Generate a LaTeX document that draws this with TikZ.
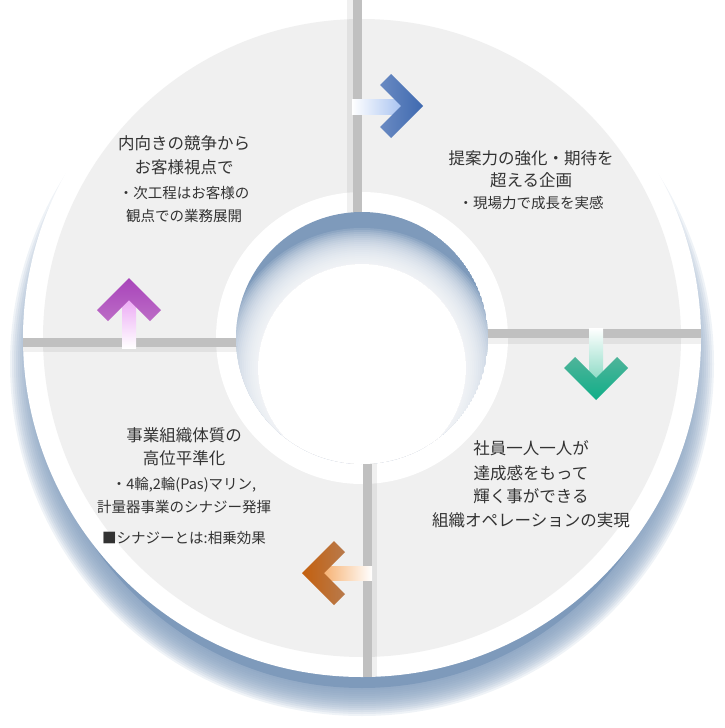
\documentclass[tikz,border=0pt]{standalone}
\usepackage{fontspec}
\setmainfont{Noto Sans CJK JP}
\usetikzlibrary{positioning}
\definecolor{ringgray}{HTML}{F0F0F0}
\definecolor{shadowblue}{HTML}{7E9ABB}
\definecolor{bargray}{HTML}{C0C0C0}
\definecolor{textgray}{HTML}{333333}
\definecolor{bluetip}{HTML}{3F6AB0}
\definecolor{bluelight}{HTML}{A4C0F0}
\definecolor{blueend}{HTML}{6A8AC2}
\definecolor{greentip}{HTML}{10AE88}
\definecolor{greenlight}{HTML}{8ADAC4}
\definecolor{greenend}{HTML}{4FB49A}
\definecolor{orangetip}{HTML}{C4600E}
\definecolor{orangelight}{HTML}{F6AE6C}
\definecolor{orangeend}{HTML}{B87A4C}
\definecolor{purpletip}{HTML}{A844BA}
\definecolor{purplelight}{HTML}{EBA6F4}
\definecolor{purpleend}{HTML}{BC6CC6}

\begin{document}
\begin{tikzpicture}[x=1pt, y=-1pt,
    mainline/.style={font=\fontsize{16.5}{20}\selectfont, text=textgray,
      inner sep=0pt, text height=0.8em, text depth=0.2em},
    subline/.style={mainline, font=\fontsize{14.5}{18}\selectfont},
    bar/.style={fill=bargray},
    barshadow/.style={fill=black, opacity=0.06}]
  \useasboundingbox (0,0) rectangle (725,728);
  \coordinate (c) at (362,338);
  \coordinate (s) at (362,364);
  % soft shadow under the disc
  \fill[shadowblue] (s) circle (324);
  \foreach \r in {326,328,...,352}
    \fill[shadowblue, opacity=0.12] (s) circle (\r);
  % disc, ring and inner white band
  \fill[white] (c) circle (339);
  \fill[ringgray] (c) circle (319);
  \fill[white] (c) circle (146);
  % dividing bars
  \begin{scope}
    \clip (c) circle (339);
    \fill[barshadow] (347,-5) rectangle (356,338);
    \fill[bar] (353,-5) rectangle (362,338);
    \fill[barshadow] (362,335) rectangle (710,344);
    \fill[bar] (362,329) rectangle (710,338);
    \fill[barshadow] (368,338) rectangle (377,700);
    \fill[bar] (363,338) rectangle (372,700);
    \fill[barshadow] (10,344) rectangle (362,352);
    \fill[bar] (10,338) rectangle (362,347);
  \end{scope}
  % centre hole with inner shadow
  \begin{scope}
    \clip (c) circle (126);
    \fill[shadowblue] (c) circle (126);
    \fill[white] (362,368) circle (104);
    \foreach \r in {106,108,...,140}
      \fill[white, opacity=0.12] (362,368) circle (\r);
  \end{scope}
  % arrows
  \shade[left color=white, right color=bluelight] (352,99) rectangle (404,114);
  \shade[left color=blueend, middle color=bluelight, right color=bluetip]
    (423,106) -- (391,74) -- (380,85) -- (401,106) -- (380,127) -- (391,138) -- cycle;
  \shade[top color=white, bottom color=greenlight] (589,328) rectangle (603,381);
  \shade[top color=greenend, middle color=greenlight, bottom color=greentip]
    (596,400) -- (564,368) -- (575,357) -- (596,378) -- (617,357) -- (628,368) -- cycle;
  \shade[left color=orangelight, right color=white] (321,566) rectangle (372,580);
  \shade[left color=orangetip, middle color=orangelight, right color=orangeend]
    (302,573) -- (334,541) -- (345,552) -- (324,573) -- (345,594) -- (334,605) -- cycle;
  \shade[top color=purplelight, bottom color=white] (122,297) rectangle (136,348);
  \shade[top color=purpletip, middle color=purplelight, bottom color=purpleend]
    (129,278) -- (97,310) -- (108,321) -- (129,300) -- (150,321) -- (161,310) -- cycle;
  % texts
  \node[mainline] (tl1) at (184,146) {内向きの競争から};
  \node[mainline] (tl2) at (184,170) {お客様視点で};
  \node[subline] (tl3) at (184,195) {・次工程はお客様の};
  \node[subline] (tl4) at (184,218) {観点での業務展開};
  \node[mainline] (tr1) at (531,161) {提案力の強化・期待を};
  \node[mainline] (tr2) at (531,183) {超える企画};
  \node[subline] (tr3) at (531,205) {・現場力で成長を実感};
  \node[mainline] (br1) at (531,451) {社員一人一人が};
  \node[mainline] (br2) at (531,476) {達成感をもって};
  \node[mainline] (br3) at (531,499) {輝く事ができる};
  \node[mainline] (br4) at (531,523) {組織オペレーションの実現};
  \node[mainline] (bl1) at (184,438) {事業組織体質の};
  \node[mainline] (bl2) at (184,461) {高位平準化};
  \node[subline] (bl3) at (184,486) {・4輪,2輪(Pas)マリン,};
  \node[subline] (bl4) at (184,509) {計量器事業のシナジー発揮};
  \node[subline] (bl5) at (184,540) {■シナジーとは:相乗効果};
\end{tikzpicture}
\end{document}
